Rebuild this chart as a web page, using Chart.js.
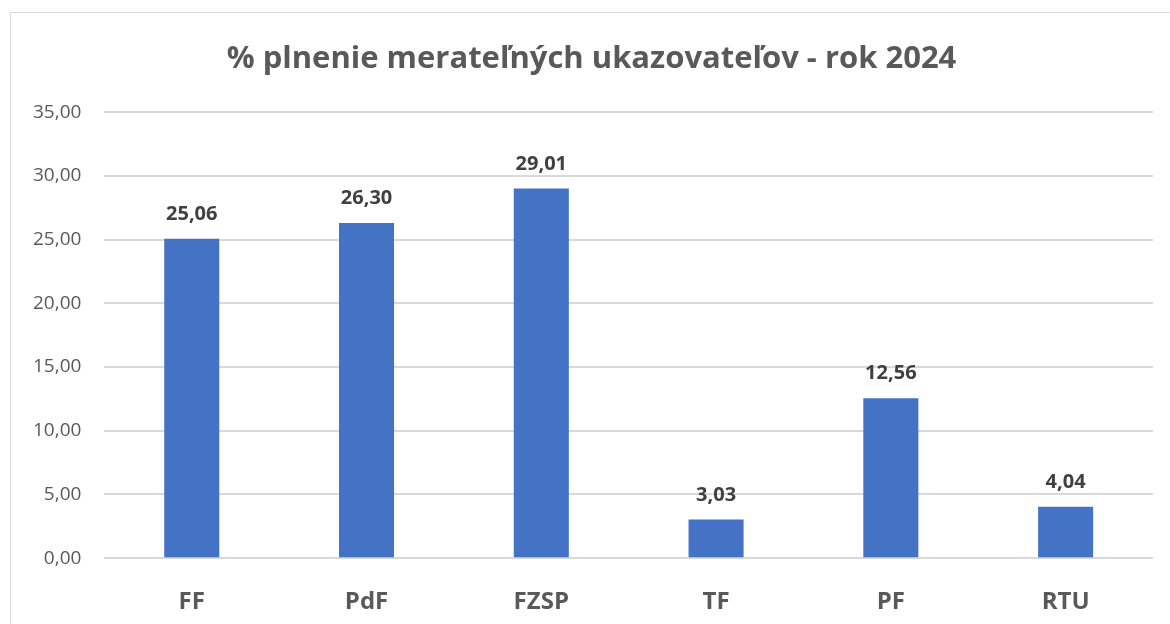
<!DOCTYPE html>
<html>
<head>
<meta charset="utf-8">
<script src="https://cdn.jsdelivr.net/npm/chart.js@4"></script>
<style>
  html, body { margin: 0; padding: 0; background: #fff; overflow: hidden; }
  #box {
    position: absolute; left: 10px; top: 12px;
    width: 1170px; height: 660px;
    border: 1px solid #d9d9d9; background: #fff;
  }
  #wrap { position: relative; width: 1170px; height: 640px; }
</style>
</head>
<body>
<div id="box"><div id="wrap"><canvas id="c"></canvas></div></div>
<script>
// data
const categories = ['FF', 'PdF', 'FZSP', 'TF', 'PF', 'RTU'];
const values = [25.06, 26.30, 29.01, 3.03, 12.56, 4.04];
const chartTitle = '% plnenie merateľných ukazovateľov - rok 2024';

const fmt = v => v.toFixed(2).replace('.', ',');

// simple value labels above each bar
const barLabels = {
  id: 'barLabels',
  afterDatasetsDraw(chart) {
    const ctx = chart.ctx;
    const meta = chart.getDatasetMeta(0);
    ctx.save();
    ctx.font = 'bold 20px "Open Sans"';
    ctx.fillStyle = '#404040';
    ctx.textAlign = 'center';
    ctx.textBaseline = 'alphabetic';
    meta.data.forEach((bar, i) => {
      ctx.fillText(fmt(values[i]), bar.x, bar.y - 19);
    });
    ctx.restore();
  }
};

new Chart(document.getElementById('c'), {
  type: 'bar',
  data: {
    labels: categories,
    datasets: [{
      data: values,
      backgroundColor: '#4472C4',
      barPercentage: 0.315,
      categoryPercentage: 1
    }]
  },
  options: {
    responsive: true,
    maintainAspectRatio: false,
    animation: false,
    layout: { padding: { left: 19, right: 28, top: 10, bottom: 14 } },
    plugins: {
      legend: { display: false },
      tooltip: { enabled: false },
      title: {
        display: true,
        text: chartTitle,
        color: '#595959',
        font: { family: 'Open Sans', size: 31, weight: 'bold' },
        padding: { top: 18, bottom: 34 }
      }
    },
    scales: {
      x: {
        grid: { display: false },
        border: { display: false },
        ticks: {
          color: '#595959',
          font: { family: 'Open Sans', size: 24, weight: 'bold' },
          padding: 22
        }
      },
      y: {
        min: 0,
        max: 35,
        grid: {
          color: '#d9d9d9',
          lineWidth: 2,
          drawTicks: true,
          tickLength: 20,
          tickColor: 'rgba(0,0,0,0)'
        },
        border: { display: false },
        ticks: {
          stepSize: 5,
          color: '#595959',
          font: { family: 'Open Sans', size: 19 },
          padding: 3,
          callback: v => fmt(v)
        }
      }
    }
  },
  plugins: [barLabels]
});
</script>
</body>
</html>
